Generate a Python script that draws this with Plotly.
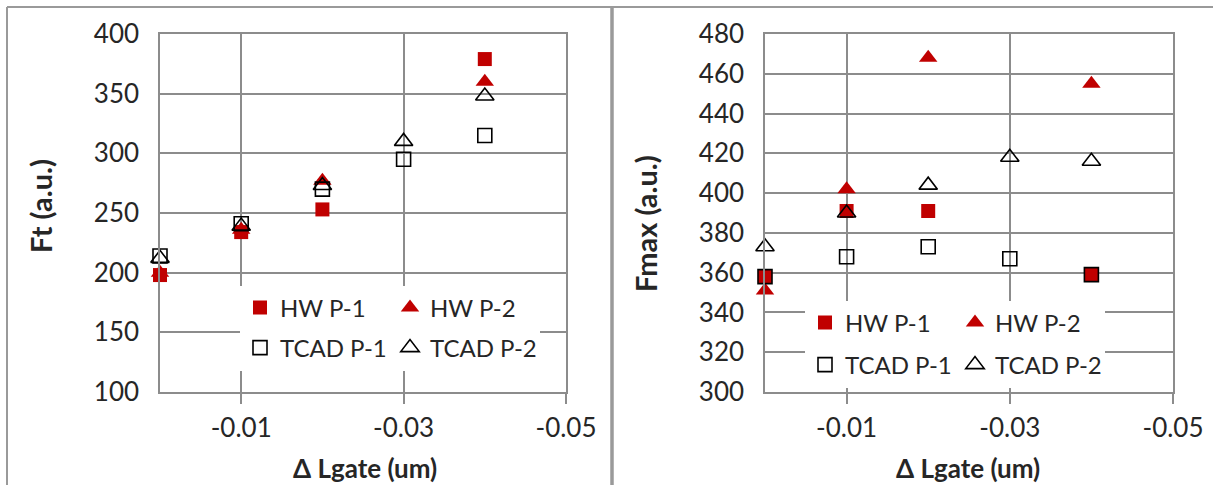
import plotly.graph_objects as go

# ---------------- data ----------------
x_hw = [0.0, -0.01, -0.02, -0.04]
x_tcad = [0.0, -0.01, -0.02, -0.03, -0.04]

ft_hw_p1 = [198, 234, 253, 379]
ft_hw_p2 = [200, 236, 277, 360]
ft_tcad_p1 = [214, 241, 270, 295, 315]
ft_tcad_p2 = [212, 239, 273, 310, 348]

fmax_hw_p1 = [358, 391, 391, 359]
fmax_hw_p2 = [351, 402, 468, 455]
fmax_tcad_p1 = [358, 368, 373, 367, 359]
fmax_tcad_p2 = [373, 390, 404, 418, 416]

x_tickvals = [-0.01, -0.03, -0.05]
x_ticktext = ["-0.01", "-0.03", "-0.05"]
names = ["HW P-1", "HW P-2", "TCAD P-1", "TCAD P-2"]

# ---------------- style ----------------
W, H = 1213, 485
RED = "#C00000"
GRID = "#8c8c8c"
TXT = "#262626"
FONT = "Lato"


def px_x(p):
    return p / W


def px_y(p):
    return 1 - p / H


fig = go.Figure()


def add_series(xa, ya, legends, data):
    (xh, h1, h2, xt, t1, t2) = data
    specs = [
        (xh, h1, names[0], dict(symbol="square", size=14, color=RED), legends[0]),
        (xh, h2, names[1], dict(symbol="triangle-up", size=16, color=RED), legends[0]),
        (xt, t1, names[2], dict(symbol="square-open", size=14, color="black", line=dict(width=1.6, color="black")), legends[1]),
        (xt, t2, names[3], dict(symbol="triangle-up-open", size=16, color="black", line=dict(width=1.6, color="black")), legends[1]),
    ]
    for xs, ys, nm, mk, lg in specs:
        fig.add_trace(go.Scatter(
            x=xs, y=ys, name=nm, mode="markers", marker=mk,
            xaxis=xa, yaxis=ya, legend=lg, cliponaxis=False,
        ))


add_series("x", "y", ["legend", "legend2"],
           (x_hw, ft_hw_p1, ft_hw_p2, x_tcad, ft_tcad_p1, ft_tcad_p2))
add_series("x2", "y2", ["legend3", "legend4"],
           (x_hw, fmax_hw_p1, fmax_hw_p2, x_tcad, fmax_tcad_p1, fmax_tcad_p2))

xaxis_common = dict(
    range=[0, -0.05], tickvals=x_tickvals, ticktext=x_ticktext,
    showgrid=True, gridcolor=GRID, gridwidth=1.5,
    showline=True, linecolor=GRID, linewidth=1.5, mirror=True,
    ticks="outside", ticklen=10, tickcolor=GRID, tickwidth=1.5,
    zeroline=False, tickfont=dict(family=FONT, size=26, color=TXT),
    ticklabelstandoff=2, automargin=False,
)
yaxis_common = dict(
    showgrid=True, gridcolor=GRID, gridwidth=1.5,
    showline=True, linecolor=GRID, linewidth=1.5, mirror=True,
    ticks="", zeroline=False,
    tickfont=dict(family=FONT, size=26, color=TXT),
    ticklabelstandoff=14, automargin=False,
)

plot_top, plot_bot = 34, 392
fig.update_layout(
    template="none",
    width=W, height=H,
    margin=dict(l=0, r=0, t=0, b=0, pad=0, autoexpand=False),
    paper_bgcolor="white", plot_bgcolor="white",
    xaxis=dict(domain=[px_x(160), px_x(566)], anchor="y", **xaxis_common),
    yaxis=dict(domain=[px_y(plot_bot), px_y(plot_top)], anchor="x",
               range=[100, 400], dtick=50, **yaxis_common),
    xaxis2=dict(domain=[px_x(765), px_x(1173)], anchor="y2", **xaxis_common),
    yaxis2=dict(domain=[px_y(plot_bot), px_y(plot_top)], anchor="x2",
                range=[300, 480], dtick=20, **yaxis_common),
)

leg_common = dict(
    orientation="h", xanchor="left", yanchor="middle",
    entrywidth=105, entrywidthmode="pixels",
    bgcolor="white", borderwidth=0,
    font=dict(family=FONT, size=24, color=TXT),
    itemclick=False, itemdoubleclick=False,
)
fig.update_layout(
    legend=dict(x=px_x(240), y=px_y(308), **leg_common),
    legend2=dict(x=px_x(240), y=px_y(348), **leg_common),
    legend3=dict(x=px_x(805), y=px_y(323), **leg_common),
    legend4=dict(x=px_x(805), y=px_y(365), **leg_common),
)

# chart-area borders
BORDER = "#9a9a9a"
fig.add_shape(type="line", xref="paper", yref="paper",
              x0=px_x(7), x1=1, y0=px_y(7), y1=px_y(7),
              line=dict(color=BORDER, width=2))
fig.add_shape(type="line", xref="paper", yref="paper",
              x0=px_x(7), x1=px_x(7), y0=0, y1=px_y(7),
              line=dict(color=BORDER, width=2))
fig.add_shape(type="line", xref="paper", yref="paper",
              x0=px_x(612), x1=px_x(612), y0=0, y1=px_y(7),
              line=dict(color=BORDER, width=3.5))

# axis titles
yfont = dict(family=FONT, size=29, color=TXT)
xfont = dict(family=FONT, size=26, color=TXT)
fig.add_annotation(text="<b>Ft (a.u.)</b>", xref="paper", yref="paper",
                   x=px_x(40), y=px_y(206), textangle=-90, showarrow=False,
                   xanchor="center", yanchor="middle", font=yfont)
fig.add_annotation(text="<b>Fmax (a.u.)</b>", xref="paper", yref="paper",
                   x=px_x(645), y=px_y(224), textangle=-90, showarrow=False,
                   xanchor="center", yanchor="middle", font=yfont)
fig.add_annotation(text="<b>Δ Lgate (um)</b>", xref="paper", yref="paper",
                   x=px_x(365), y=px_y(468), showarrow=False,
                   xanchor="center", yanchor="middle", font=xfont)
fig.add_annotation(text="<b>Δ Lgate (um)</b>", xref="paper", yref="paper",
                   x=px_x(968), y=px_y(468), showarrow=False,
                   xanchor="center", yanchor="middle", font=xfont)

fig.write_html("out.html")
